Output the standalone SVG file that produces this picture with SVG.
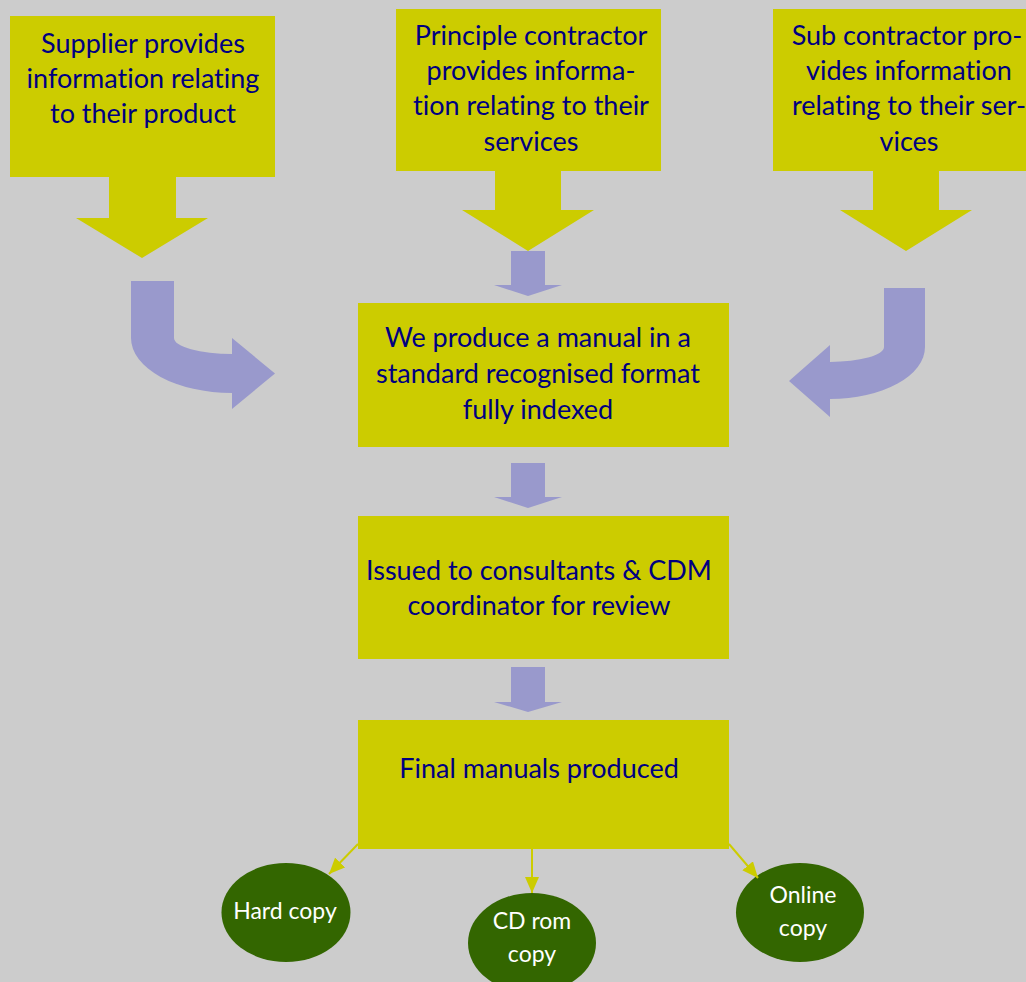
<svg xmlns="http://www.w3.org/2000/svg" width="1026" height="982" viewBox="0 0 1026 982">
<defs>
<style>
.box{fill:#CCCC00}
.blue{fill:#9999CC}
.t{font-family:Lato,"Liberation Sans",sans-serif;font-size:27px;fill:#000080;text-anchor:middle;font-variant-ligatures:none;font-feature-settings:"liga" 0}
.ct{font-family:Lato,"Liberation Sans",sans-serif;font-size:23px;fill:#FFFFFF;text-anchor:middle;font-variant-ligatures:none}
.circ{fill:#336600}
.conn{stroke:#CCCC00;stroke-width:2;fill:none}
</style>
<marker id="ahy" viewBox="0 0 16 14" refX="16" refY="7" markerWidth="16" markerHeight="14" markerUnits="userSpaceOnUse" orient="auto">
<path d="M0,0 L16,7 L0,14 Z" fill="#CCCC00"/>
</marker>
</defs>
<rect width="1026" height="982" fill="#CCCCCC"/>

<g id="supplier">
<path class="box" d="M10,16 H275 V177 H176 V218 H208 L142,258 L76,218 H109 V177 H10 Z"/>
<text class="t" x="143" y="53">Supplier provides</text>
<text class="t" x="143" y="88">information relating</text>
<text class="t" x="143" y="123">to their product</text>
</g>

<g id="principle">
<path class="box" d="M396,9 H661 V171 H561 V210 H594 L528,251 L462,210 H495 V171 H396 Z"/>
<text class="t" x="531" y="45">Principle contractor</text>
<text class="t" x="531" y="80">provides informa-</text>
<text class="t" x="531" y="115">tion relating to their</text>
<text class="t" x="531" y="151">services</text>
</g>

<g id="subcontractor">
<path class="box" d="M773,9 H1040 V171 H939 V210 H972 L906,251 L840,210 H873 V171 H773 Z"/>
<text class="t" x="907" y="45">Sub contractor pro-</text>
<text class="t" x="909" y="80">vides information</text>
<text class="t" x="909" y="115">relating to their ser-</text>
<text class="t" x="909" y="151">vices</text>
</g>

<g id="produce">
<rect class="box" x="358" y="303" width="371" height="144"/>
<text class="t" x="538" y="347">We produce a manual in a</text>
<text class="t" x="538" y="383">standard recognised format</text>
<text class="t" x="538" y="419">fully indexed</text>
</g>

<g id="issued">
<rect class="box" x="358" y="516" width="371" height="143"/>
<text class="t" x="539" y="580">Issued to consultants &amp; CDM</text>
<text class="t" x="539" y="615">coordinator for review</text>
</g>

<g id="final">
<rect class="box" x="358" y="720" width="371" height="129"/>
<text class="t" x="539" y="778">Final manuals produced</text>
</g>

<g id="hardcopy">
<ellipse class="circ" cx="286" cy="912.5" rx="64.5" ry="49.5"/>
<text class="ct" x="285" y="919">Hard copy</text>
</g>

<g id="cdrom">
<ellipse class="circ" cx="532" cy="943" rx="64" ry="50"/>
<text class="ct" x="532" y="929">CD rom</text>
<text class="ct" x="532" y="962">copy</text>
</g>

<g id="online">
<ellipse class="circ" cx="800" cy="912.5" rx="64" ry="49.5"/>
<text class="ct" x="803" y="903">Online</text>
<text class="ct" x="803" y="936">copy</text>
</g>

<g id="connectors">
<path class="blue" d="M511,251 H545 V285 H562 L528,296 L494,285 H511 Z"/>
<path class="blue" d="M511,463 H545 V497 H562 L528,508 L494,497 H511 Z"/>
<path class="blue" d="M511,667 H545 V702 H562 L528,712 L494,702 H511 Z"/>
<path class="blue" d="M131,281 H174 V338 A58,16 0 0 0 232,354 V338 L275,373.5 L232,409 V393 A101,55 0 0 1 131,338 Z"/>
<path class="blue" d="M884,288 H925 V347 A95,52 0 0 1 830,399 V417 L789,381 L830,345 V362 A54,15 0 0 0 884,347 Z"/>
<line class="conn" x1="358" y1="844" x2="329" y2="874" marker-end="url(#ahy)"/>
<line class="conn" x1="532" y1="849" x2="532" y2="893" marker-end="url(#ahy)"/>
<line class="conn" x1="729" y1="844" x2="758" y2="878" marker-end="url(#ahy)"/>
</g>
</svg>
